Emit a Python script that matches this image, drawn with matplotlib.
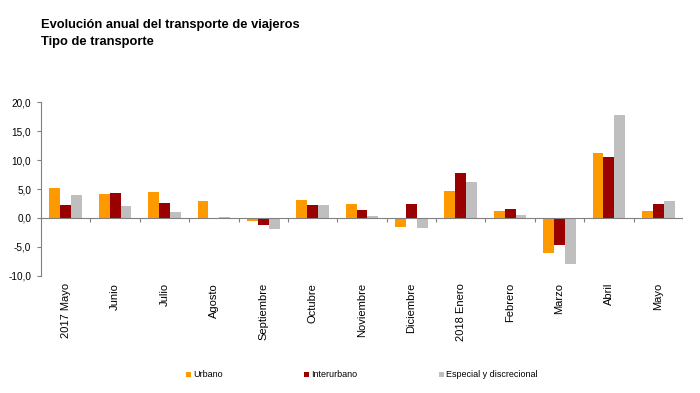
import numpy as np
import matplotlib
matplotlib.use('Agg')
import matplotlib.pyplot as plt
from matplotlib.ticker import FuncFormatter

plt.rcParams['font.family'] = ['Liberation Sans', 'DejaVu Sans']

meses = ['2017 Mayo', 'Junio', 'Julio', 'Agosto', 'Septiembre', 'Octubre',
         'Noviembre', 'Diciembre', '2018 Enero', 'Febrero', 'Marzo', 'Abril', 'Mayo']
urbano = [5.2, 4.2, 4.5, 3.0, -0.5, 3.1, 2.4, -1.5, 4.7, 1.2, -6.0, 11.2, 1.2]
interurbano = [2.2, 4.3, 2.6, 0.05, -1.2, 2.2, 1.4, 2.4, 7.8, 1.5, -4.6, 10.6, 2.5]
especial = [3.9, 2.1, 1.0, 0.2, -1.9, 2.3, 0.3, -1.8, 6.2, 0.5, -8.0, 17.7, 3.0]

series = ['Urbano', 'Interurbano', 'Especial y discrecional']
colores = ['#FF9900', '#990000', '#BFBFBF']

fig = plt.figure(figsize=(7, 3.93), dpi=100)
ax = fig.add_axes([0.0586, 0.298, 0.917, 0.442])

x = np.arange(len(meses))
w = 0.22
for i, (vals, nombre, col) in enumerate(zip([urbano, interurbano, especial], series, colores)):
    ax.bar(x + (i - 1) * w, vals, width=w, color=col, label=nombre)

ax.set_xlim(-0.5, len(meses) - 0.5)
ax.set_ylim(-10, 20)
ax.set_yticks(np.arange(-10, 21, 5))
ax.yaxis.set_major_formatter(FuncFormatter(lambda v, p: f'{v:.1f}'.replace('.', ',')))

# linea de cero con marcas entre categorias
ax.axhline(0, color='#808080', lw=0.8, zorder=3)
ax.vlines(np.arange(len(meses) + 1) - 0.5, -0.7, 0, color='#808080', lw=0.8, zorder=3)

ax.set_xticks(x)
ax.set_xticklabels(meses, rotation=90, fontsize=8)
ax.tick_params(axis='x', length=0, pad=5)
ax.tick_params(axis='y', labelsize=7.2, length=3, color='#808080', pad=4)

for s in ['top', 'right', 'bottom']:
    ax.spines[s].set_visible(False)
ax.spines['left'].set_color('#808080')
ax.spines['left'].set_linewidth(0.8)

fig.text(0.0586, 0.937, 'Evolución anual del transporte de viajeros', fontsize=9.3,
         fontweight='bold', va='center', ha='left')
fig.text(0.0586, 0.894, 'Tipo de transporte', fontsize=9.3,
         fontweight='bold', va='center', ha='left')

fig.legend(loc='center', bbox_to_anchor=(0.517, 0.046), ncol=3, frameon=False,
           fontsize=6.5, handlelength=0.55, handleheight=0.55, handletextpad=0.25,
           columnspacing=9.0)

fig.savefig('out.png', dpi=100)
